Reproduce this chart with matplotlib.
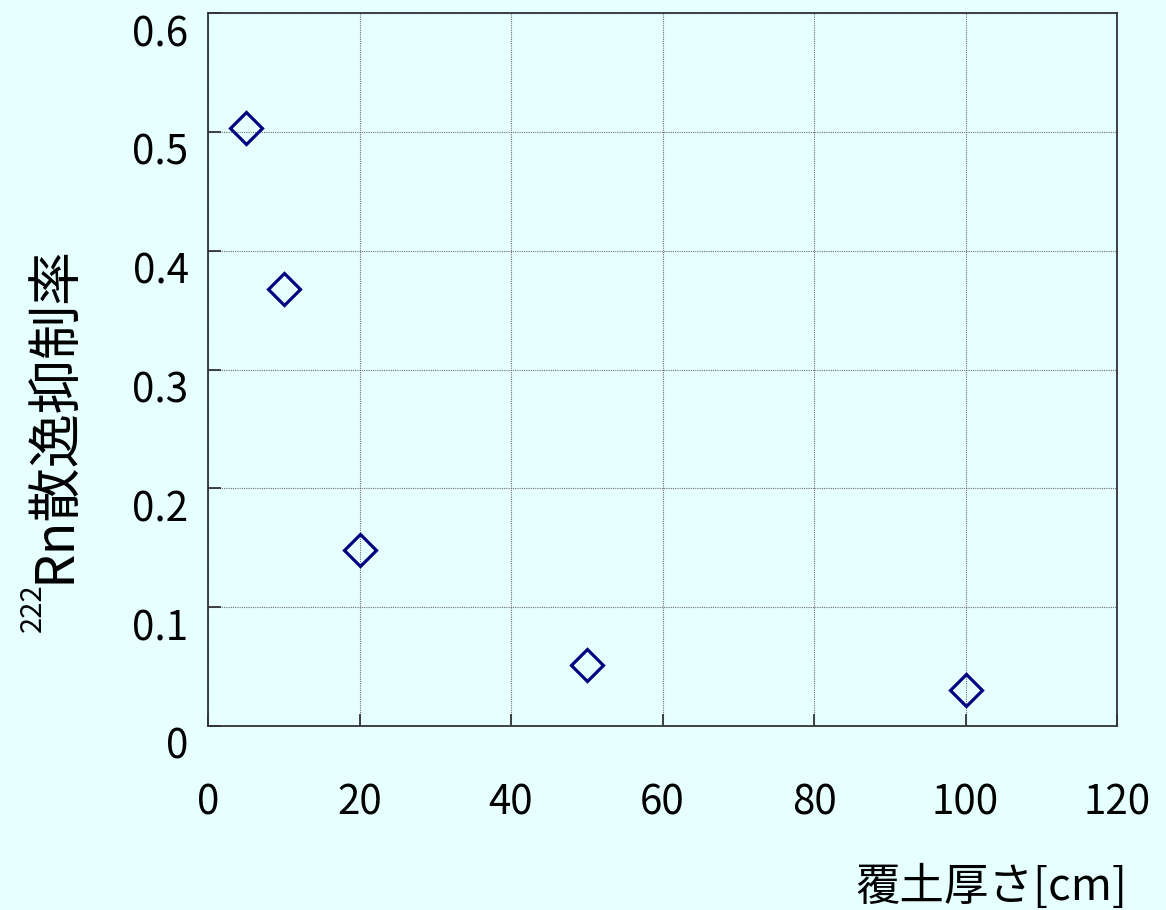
import matplotlib
matplotlib.use("Agg")
import matplotlib.pyplot as plt
import matplotlib.transforms as mtransforms

# Cover-soil thickness [cm] and 222Rn exhalation suppression ratio
thickness_cm = [5, 10, 20, 50, 100]
suppression_ratio = [0.503, 0.368, 0.148, 0.051, 0.030]

x_ticks = [0, 20, 40, 60, 80, 100, 120]
y_ticks = [0, 0.1, 0.2, 0.3, 0.4, 0.5, 0.6]
y_tick_labels = ["0", "0.1", "0.2", "0.3", "0.4", "0.5", "0.6"]

BG = "#E6FFFF"
MARKER = "#000080"
FONT = ["Noto Sans CJK JP", "DejaVu Sans"]

plt.rcParams["font.family"] = FONT

fig = plt.figure(figsize=(11.66, 9.10), dpi=100, facecolor=BG)
ax = fig.add_axes([0.1784, 0.2022, 0.958 - 0.1784, 0.9857 - 0.2022], facecolor=BG)

ax.plot(thickness_cm, suppression_ratio, linestyle="none", marker="D",
        markersize=16.5, markerfacecolor="none", markeredgecolor=MARKER,
        markeredgewidth=2.3, clip_on=False, zorder=3)

ax.set_xlim(0, 120)
ax.set_ylim(0, 0.6)
ax.set_xticks(x_ticks)
ax.set_yticks(y_ticks)
ax.set_yticklabels(y_tick_labels)

ax.grid(True, color="#707070", linestyle=(0, (1, 1)), linewidth=0.8)
ax.set_axisbelow(True)

for side in ["left", "bottom", "top", "right"]:
    ax.spines[side].set_color("#333333")
    ax.spines[side].set_linewidth(1.3)

ax.tick_params(axis="both", direction="in", length=9, width=1.3,
               color="#333333", labelsize=29, labelcolor="black")
ax.tick_params(axis="x", pad=41)
ax.tick_params(axis="y", pad=14)

# Y tick labels sit slightly below their tick marks
shift = mtransforms.ScaledTranslation(0, -17 / 100, fig.dpi_scale_trans)
for lbl in ax.get_yticklabels():
    lbl.set_transform(lbl.get_transform() + shift)

# Axis titles
fig.text(1127 / 1166, 1 - 887 / 910, "覆土厚さ[cm]", ha="right", va="center",
         fontsize=32, color="black")
fig.text(54 / 1166, 1 - 583 / 910, "Rn散逸抑制率", rotation=90, ha="center",
         va="bottom", fontsize=39, color="black")
fig.text(33 / 1166, 1 - 583 / 910, "222", rotation=90, ha="center",
         va="top", fontsize=21, color="black")

fig.savefig("out.png", dpi=100, facecolor=BG)
